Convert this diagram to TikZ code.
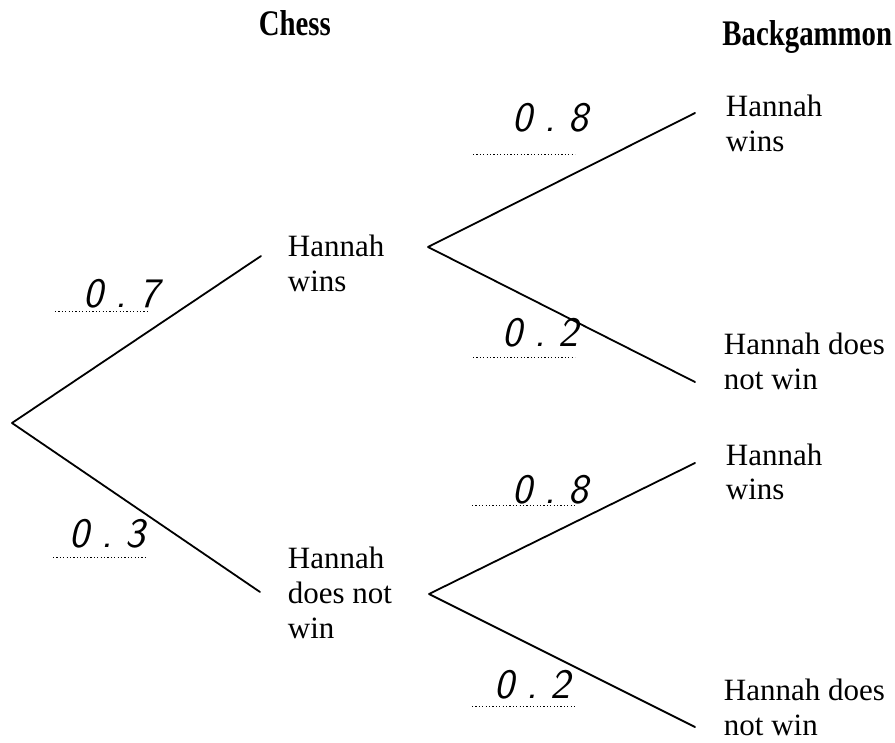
\documentclass[tikz,border=0pt]{standalone}
\usepackage{fontspec}
\setmainfont{Liberation Serif}
\begin{document}
\begin{tikzpicture}[x=1pt, y=-1pt, line join=round, line cap=round, line width=1.8pt,
    outcome/.style={anchor=base west, inner sep=0pt, align=left, font=\fontsize{31}{35}\selectfont},
    header/.style={inner sep=0pt, font=\fontsize{36}{40}\selectfont\bfseries},
    prob/.style={anchor=base, inner sep=0pt, font=\fontsize{42}{44}\selectfont\sffamily\itshape},
    dotline/.style={line width=1pt, line cap=butt, dash pattern=on 1.2pt off 2.2pt}]
    \useasboundingbox (0,0) rectangle (895,743);
    % branch points
    \coordinate (R) at (12,423);
    \coordinate (W) at (261,256);
    \coordinate (L) at (260,592);
    \coordinate (W0) at (428,247);
    \coordinate (WW) at (695,113);
    \coordinate (WL) at (695,382);
    \coordinate (L0) at (429,594);
    \coordinate (LW) at (695,463);
    \coordinate (LL) at (695,727);
    \draw (W) -- (R) -- (L);
    \draw (WW) -- (W0) -- (WL);
    \draw (LW) -- (L0) -- (LL);
    % headings
    \node[header, anchor=base west] (chess) at (258,36) {\scalebox{0.8}[1]{Chess}};
    \node[header, anchor=base east] (backg) at (893,46) {\scalebox{0.8}[1]{Backgammon}};
    % outcomes (anchored at last line)
    \node[outcome] (tW) at (287,292) {Hannah\\wins};
    \node[outcome] (tL) at (287,638) {Hannah\\does not\\win};
    \node[outcome] (tWW) at (725,152) {Hannah\\wins};
    \node[outcome] (tWL) at (723,390) {Hannah does\\not win};
    \node[outcome] (tLW) at (725,500) {Hannah\\wins};
    \node[outcome] (tLL) at (723,735) {Hannah does\\not win};
    % written answers
    \node[prob] (pW) at (121,308) {0\hspace{0.3em}.\hspace{0.3em}7};
    \node[prob] (pL) at (107,547) {0\hspace{0.3em}.\hspace{0.3em}3};
    \node[prob] (pWW) at (550,132) {0\hspace{0.3em}.\hspace{0.3em}8};
    \node[prob] (pWL) at (540,347) {0\hspace{0.3em}.\hspace{0.3em}2};
    \node[prob] (pLW) at (550,503) {0\hspace{0.3em}.\hspace{0.3em}8};
    \node[prob] (pLL) at (532,698) {0\hspace{0.3em}.\hspace{0.3em}2};
    \draw[dotline] (55,312) -- (150,312);
    \draw[dotline] (53,557) -- (148,557);
    \draw[dotline] (473,155) -- (575,155);
    \draw[dotline] (473,358) -- (575,358);
    \draw[dotline] (472,505) -- (575,505);
    \draw[dotline] (472,706) -- (575,706);
\end{tikzpicture}
\end{document}
